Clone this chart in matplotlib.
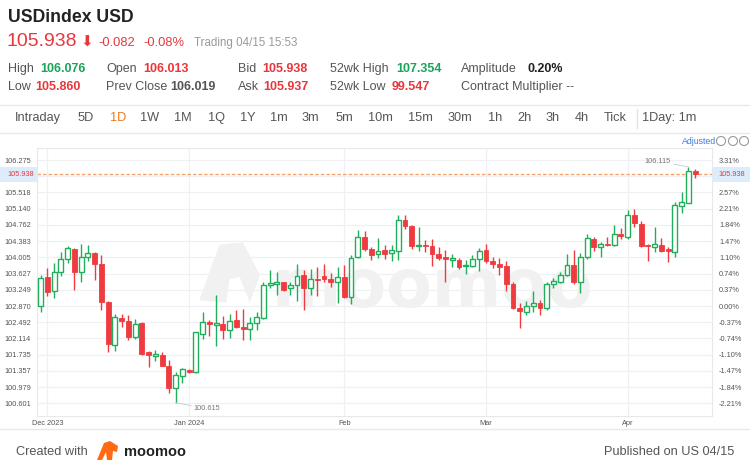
import matplotlib.pyplot as plt
import numpy as np
from matplotlib.patches import Rectangle, Ellipse, Polygon
from matplotlib.lines import Line2D

# daily candles, Nov 30 2023 .. Apr 15 2024 (index 1..98)
opens = [102.87, 103.54, 103.21, 103.66, 103.97, 104.20, 103.66, 104.02, 104.10, 103.85,
         102.96, 101.96, 102.59, 102.52, 102.14, 102.47, 101.79, 101.70, 101.72, 101.48,
         100.95, 101.23, 101.38, 101.33, 102.22, 102.49, 102.42, 102.45, 102.31, 102.55,
         102.38, 102.33, 102.47, 102.60, 103.35, 103.38, 103.42, 103.29, 103.35, 103.60,
         103.28, 103.50, 103.56, 103.49, 103.42, 103.54, 103.09, 104.01, 104.47, 104.20,
         104.08, 104.17, 104.10, 104.15, 104.88, 104.74, 104.26, 104.29, 104.27, 104.09,
         104.02, 103.94, 103.94, 103.80, 103.80, 103.96, 104.18, 103.92, 103.86, 103.81,
         103.39, 102.83, 102.74, 102.86, 102.95, 102.82, 103.39, 103.44, 103.60, 103.82,
         103.42, 104.02, 104.43, 104.24, 104.32, 104.29, 104.55, 104.49, 104.99, 104.78,
         104.29, 104.24, 104.29, 104.20, 104.12, 105.21, 105.28, 106.013]
highs = [103.60, 103.75, 103.87, 104.12, 104.26, 104.23, 104.32, 104.29, 104.13, 104.05,
         102.98, 102.69, 102.69, 102.66, 102.57, 102.50, 101.83, 101.85, 101.79, 101.61,
         101.34, 101.42, 101.40, 102.27, 102.74, 102.55, 103.13, 102.64, 102.68, 102.78,
         102.80, 102.61, 102.72, 103.44, 103.71, 103.67, 103.44, 103.44, 103.85, 103.71,
         103.73, 103.79, 103.85, 103.63, 103.77, 103.83, 104.06, 104.64, 104.63, 104.24,
         104.45, 104.29, 104.29, 104.99, 104.99, 104.76, 104.71, 104.41, 104.44, 104.24,
         104.18, 104.08, 103.98, 103.94, 104.06, 104.23, 104.31, 104.01, 103.98, 103.91,
         103.42, 102.94, 102.98, 103.21, 103.01, 103.42, 103.52, 103.67, 104.08, 104.18,
         104.10, 104.54, 104.49, 104.37, 104.47, 104.76, 104.68, 105.11, 105.13, 104.85,
         104.31, 104.71, 104.45, 104.24, 105.30, 105.54, 106.115, 106.076]
lows = [102.74, 103.11, 103.05, 103.56, 103.87, 103.25, 103.44, 103.91, 103.48, 102.78,
        101.79, 101.83, 102.38, 102.08, 102.10, 101.72, 101.44, 101.58, 101.46, 100.84,
        100.615, 101.07, 101.30, 101.30, 102.10, 102.16, 101.93, 102.10, 102.12, 102.35,
        102.07, 102.08, 102.31, 102.57, 103.28, 103.13, 103.23, 103.13, 102.99, 102.78,
        103.13, 103.11, 103.42, 103.32, 102.95, 103.05, 102.91, 103.98, 104.16, 103.94,
        103.98, 103.97, 103.91, 103.94, 104.66, 104.19, 104.16, 104.14, 103.81, 103.94,
        103.44, 103.77, 103.73, 103.62, 103.79, 103.69, 103.87, 103.75, 103.60, 103.21,
        102.80, 102.35, 102.65, 102.74, 102.66, 102.77, 103.30, 103.40, 103.56, 103.39,
        103.18, 103.96, 104.16, 104.02, 104.26, 104.27, 104.43, 104.43, 104.71, 104.24,
        103.93, 104.14, 104.14, 103.89, 104.02, 105.05, 105.27, 105.860]
closes = [103.52, 103.20, 103.66, 103.96, 104.22, 103.67, 104.02, 104.10, 103.84, 102.97,
          101.98, 102.62, 102.53, 102.14, 102.45, 101.76, 101.73, 101.76, 101.48, 100.95,
          101.26, 101.40, 101.33, 102.26, 102.49, 102.44, 102.47, 102.31, 102.53, 102.37,
          102.33, 102.47, 102.61, 103.36, 103.40, 103.42, 103.25, 103.36, 103.57, 103.29,
          103.49, 103.47, 103.49, 103.42, 103.54, 103.09, 103.98, 104.49, 104.21, 104.07,
          104.15, 104.08, 104.17, 104.88, 104.74, 104.28, 104.29, 104.26, 104.08, 103.99,
          103.96, 103.99, 103.79, 103.83, 103.97, 104.16, 103.91, 103.85, 103.79, 103.39,
          102.82, 102.75, 102.86, 102.95, 102.82, 103.39, 103.46, 103.60, 103.82, 103.42,
          104.02, 104.45, 104.24, 104.32, 104.29, 104.56, 104.50, 104.99, 104.80, 104.26,
          104.26, 104.32, 104.16, 104.15, 105.23, 105.30, 106.019, 105.938]

month_idx = [2, 23, 46, 67, 88]
month_labels = ['Dec 2023', 'Jan 2024', 'Feb', 'Mar', 'Apr']

base = 102.870
step = 0.378333
last_price = 105.938

# tick labels as shown (the one under the current-price box is hidden)
price_labels = ['100.601', '100.979', '101.357', '101.735', '102.114', '102.492', '102.870', '103.249',
                '103.627', '104.005', '104.383', '104.762', '105.140', '105.518', '', '106.275']
pct_labels = ['-2.21%', '-1.84%', '-1.47%', '-1.10%', '-0.74%', '-0.37%', '0.00%', '0.37%',
              '0.74%', '1.10%', '1.47%', '1.84%', '2.21%', '2.57%', '', '3.31%']

UP = '#1fae5b'
DOWN = '#ef3b3f'
RED = '#e8373c'
GREEN = '#1aa35a'
GREY = '#555555'

W, H = 750, 472
plt.rcParams['font.family'] = ['Liberation Sans', 'DejaVu Sans']
fig = plt.figure(figsize=(7.5, 4.72), dpi=100)


def fx(x):
    return x / W


def fy(y):
    return 1 - y / H


def hline(y, x0=0, x1=W, c='#e7e9ee'):
    fig.add_artist(Line2D([fx(x0), fx(x1)], [fy(y), fy(y)], color=c, lw=1))


# ---- header
fig.text(fx(8), fy(17), 'USDindex USD', fontsize=12.7, fontweight='bold', color='#222222', va='center')
fig.text(fx(7), fy(42), '105.938', fontsize=14, color=RED, va='center')
fig.text(fx(80), fy(42), '\u2B07', fontsize=11, color=RED, va='center', family='DejaVu Sans')
fig.text(fx(98), fy(43), '-0.082', fontsize=9.3, color=RED, va='center')
fig.text(fx(143), fy(43), '-0.08%', fontsize=9.3, color=RED, va='center')
fig.text(fx(194), fy(43), 'Trading 04/15 15:53', fontsize=8.3, color='#9a9a9a', va='center')

rows = [
    (69, [(8, 'High', GREY), (40, '106.076', GREEN), (106, 'Open', GREY), (143, '106.013', RED),
          (238, 'Bid', GREY), (262, '105.938', RED), (330, '52wk High', GREY), (396, '107.354', GREEN),
          (461, 'Amplitude', GREY), (527, '0.20%', '#222222')]),
    (87, [(8, 'Low', GREY), (35, '105.860', RED), (106, 'Prev Close', GREY), (170, '106.019', GREY),
          (238, 'Ask', GREY), (263, '105.937', RED), (330, '52wk Low', GREY), (392, '99.547', RED),
          (461, 'Contract Multiplier --', GREY)]),
]
for y, items in rows:
    for x, t, c in items:
        fw = 'normal' if any(ch.isalpha() for ch in t) else 'bold'
        fig.text(fx(x), fy(y), t, fontsize=9, color=c, va='center', fontweight=fw)

hline(105)
tabs = [(15, 'Intraday'), (78, '5D'), (110, '1D'), (140, '1W'), (174, '1M'), (208, '1Q'), (240, '1Y'),
        (270, '1m'), (302, '3m'), (336, '5m'), (368, '10m'), (408, '15m'), (448, '30m'), (488, '1h'),
        (517, '2h'), (546, '3h'), (575, '4h'), (604, 'Tick'), (642, '1Day: 1m')]
for x, t in tabs:
    fig.text(fx(x), fy(118), t, fontsize=9.2, color='#f07a1e' if t == '1D' else GREY, va='center')
fig.add_artist(Line2D([fx(637), fx(637)], [fy(109), fy(128)], color='#e0e2e6', lw=1))
hline(133)

fig.text(fx(682), fy(141), 'Adjusted', fontsize=6.3, color='#3d7be0', va='center')
for cx in [721, 733, 744]:
    fig.add_artist(Ellipse((fx(cx), fy(141)), 9 / W, 9 / H, transform=fig.transFigure,
                           facecolor='white', edgecolor='#9a9a9a', lw=0.8))

# ---- chart
ax = fig.add_axes([fx(37.3), fy(416), fx(712) - fx(37.3), fy(148.3) - fy(416)])
idx = np.arange(1, len(opens) + 1)
o = np.array(opens)
h = np.array(highs)
l = np.array(lows)
c = np.array(closes)
up = c >= o

ax.set_xlim(0.5, 100.5)
ax.set_ylim(100.305, 106.548)

yt = [base + k * step for k in range(-6, 10)]
for v in yt:
    ax.axhline(v, color='#eef0f4', lw=0.9, zorder=0)
for m in month_idx:
    ax.axvline(m, color='#eef0f4', lw=0.9, zorder=0)

# watermark
ax.text(0.585, 0.48, 'moomoo', transform=ax.transAxes, fontsize=48, fontweight='bold',
        color='#f1f1f1', ha='center', va='center', zorder=0.5, family='DejaVu Sans')
ax.add_patch(Polygon([[24.5, 103.0], [27.5, 104.3], [31, 104.35], [33.5, 103.6], [32, 102.95],
                      [30.5, 103.55], [29, 103.5], [28.5, 102.95]],
                     closed=True, facecolor='#f1f1f1', edgecolor='none', zorder=0.5))

cols = np.where(up, UP, DOWN)
ax.vlines(idx, l, h, colors=cols, lw=1, zorder=2)
bw = 0.72
for i in range(len(idx)):
    bot = min(o[i], c[i])
    ht = max(abs(c[i] - o[i]), 0.03)
    if up[i]:
        ax.add_patch(Rectangle((idx[i] - bw / 2, bot), bw, ht, facecolor='white',
                               edgecolor=UP, lw=1, zorder=3))
    else:
        ax.add_patch(Rectangle((idx[i] - bw / 2, bot), bw, ht, facecolor=DOWN,
                               edgecolor=DOWN, lw=0.6, zorder=3))

ax.axhline(last_price, color='#f6a46c', lw=1, ls=(0, (2.5, 1.5)), zorder=1)

ax.set_xticks(month_idx)
ax.set_xticklabels(month_labels)
ax.set_yticks(yt)
ax.set_yticklabels(price_labels)
ax.tick_params(axis='both', length=0, labelsize=5.3, labelcolor=GREY)
ax.tick_params(axis='x', pad=3)
ax.tick_params(axis='y', pad=4.5)
for s in ax.spines.values():
    s.set_color('#e6e8ec')

ax2 = ax.twinx()
ax2.set_ylim(ax.get_ylim())
ax2.set_yticks(yt)
ax2.set_yticklabels(pct_labels)
ax2.tick_params(axis='y', length=0, labelsize=5.3, labelcolor=GREY, pad=5)
for s in ax2.spines.values():
    s.set_visible(False)

# current price boxes
ly = fy(174.5)
for x0 in [0, 712]:
    fig.add_artist(Rectangle((fx(x0), ly - 0.0165), fx(38), 0.033, transform=fig.transFigure,
                             facecolor='#dcecfb', edgecolor='none'))
fig.text(fx(7), ly, f'{last_price:.3f}', fontsize=5.3, color=RED, va='center')
fig.text(fx(718), ly, f'{last_price:.3f}', fontsize=5.3, color=RED, va='center')

# min / max annotations
lo_i = int(np.argmin(l))
hi_i = int(np.argmax(h))
ax.annotate(f'{l[lo_i]:.3f}', xy=(idx[lo_i], l[lo_i]), xytext=(idx[lo_i] + 2.7, l[lo_i] - 0.14),
            fontsize=5.3, color='#777777', va='center',
            arrowprops=dict(arrowstyle='-', color='#c8c8c8', lw=0.6, shrinkA=0, shrinkB=0))
ax.annotate(f'{h[hi_i]:.3f}', xy=(idx[hi_i], h[hi_i]), xytext=(idx[hi_i] - 2.6, h[hi_i] + 0.13),
            fontsize=5.3, color='#777777', va='center', ha='right',
            arrowprops=dict(arrowstyle='-', color='#c8c8c8', lw=0.6, shrinkA=0, shrinkB=0))

# ---- footer
hline(429)
fig.text(fx(16), fy(452), 'Created with', fontsize=9.2, color=GREY, va='center')
fig.add_artist(Polygon([[fx(97), fy(460)], [fx(104), fy(443)], [fx(110), fy(441)], [fx(118), fy(446)],
                        [fx(117), fy(452)], [fx(113), fy(451)], [fx(112), fy(460)], [fx(107), fy(460)],
                        [fx(106), fy(452)], [fx(102), fy(460)]],
                       closed=True, transform=fig.transFigure, facecolor='#ff6a13', edgecolor='none'))
fig.text(fx(124), fy(452), 'moomoo', fontsize=10.5, fontweight='bold', color='#222222', va='center')
fig.text(fx(734), fy(452), 'Published on US 04/15', fontsize=9.2, color=GREY, va='center', ha='right')

fig.savefig('out.png', dpi=100, facecolor='white')
